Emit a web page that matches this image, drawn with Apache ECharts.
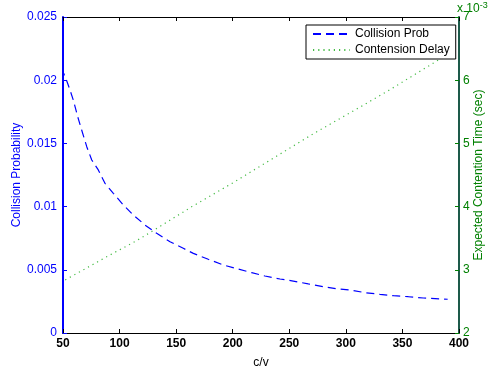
<!DOCTYPE html>
<html><head><meta charset="utf-8">
<script src="https://cdn.jsdelivr.net/npm/echarts@6/dist/echarts.min.js"></script>
<style>html,body{margin:0;padding:0;background:#fff}#c{width:490px;height:371px}</style>
</head><body><div id="c"></div>
<script>
const xTicks = [50, 100, 150, 200, 250, 300, 350, 400];
const leftTicks = [0, 0.005, 0.01, 0.015, 0.02, 0.025];
const rightTicks = [2, 3, 4, 5, 6, 7];
const probX = [50, 50.6, 53.5, 56.2, 59.1, 63, 66.5, 71, 75.4, 81.2, 87.1, 94.5, 103.3, 112.1, 122.5, 132.8, 144.6, 156.3, 165.2, 178.4, 191.7, 203.5, 216.8, 228.5, 241.8, 253.5, 266.8, 280, 291.9, 305.2, 316.9, 330.2, 342, 355.2, 368.5, 386, 390];
const probY = [0.0201, 0.02055, 0.0199, 0.01922, 0.01843, 0.01711, 0.01606, 0.01474, 0.01369, 0.0129, 0.01184, 0.01105, 0.01013, 0.00934, 0.00854, 0.00789, 0.00722, 0.0067, 0.0063, 0.00583, 0.00538, 0.00509, 0.00477, 0.00451, 0.00427, 0.00411, 0.00388, 0.00366, 0.0035, 0.00338, 0.00319, 0.00306, 0.00295, 0.00287, 0.00277, 0.00269, 0.00267];
const delayX = [52, 72, 90, 114, 127, 164, 201, 271, 314, 339, 376, 390];
const delayY = [2.84, 3.04, 3.22, 3.45, 3.59, 4.0, 4.385, 5.15, 5.59, 5.85, 6.256, 6.41]; // x 10^-3 sec

const font = 'Liberation Sans, Arial, Helvetica, sans-serif';
const chart = echarts.init(document.getElementById('c'), null, {renderer: 'canvas'});
chart.setOption({
  animation: false,
  backgroundColor: '#fff',
  grid: {left: 63, right: 31, top: 17, bottom: 38, containLabel: false, outerBoundsMode: 'none'},
  legend: {
    left: 306, top: 25, orient: 'vertical',
    backgroundColor: '#fff', borderColor: '#000', borderWidth: 1,
    padding: [3, 6, 3, 6], itemGap: 4, itemWidth: 37, itemHeight: 12,
    itemStyle: {opacity: 0},
    textStyle: {fontFamily: font, fontSize: 12, color: '#000'},
    data: ['Collision Prob', 'Contension Delay']
  },
  xAxis: [{
    type: 'value', min: xTicks[0], max: xTicks[xTicks.length - 1], interval: 50,
    name: 'c/v', nameLocation: 'middle', nameGap: 24, nameMoveOverlap: false,
    nameTextStyle: {fontFamily: font, fontSize: 12, color: '#000'},
    axisLine: {show: true, lineStyle: {color: '#000', width: 1}},
    axisTick: {show: true, inside: true, length: 4, lineStyle: {color: '#000'}},
    axisLabel: {fontFamily: font, fontSize: 12, color: '#000', margin: 5, fontWeight: 'bold'},
    splitLine: {show: false}
  }, {
    type: 'value', position: 'top', min: 50, max: 400, interval: 50,
    axisLine: {show: true, onZero: false, lineStyle: {color: '#000', width: 1}},
    axisTick: {show: true, inside: true, length: 4, lineStyle: {color: '#000'}},
    axisLabel: {show: false}, splitLine: {show: false}
  }],
  yAxis: [{
    type: 'value', position: 'left', min: 0, max: 0.025, interval: 0.005,
    name: 'Collision Probability', nameLocation: 'middle', nameGap: 40, nameRotate: 90,
    nameMoveOverlap: false,
    nameTextStyle: {fontFamily: font, fontSize: 12, color: '#0000ff'},
    axisLine: {show: true, lineStyle: {color: '#0000ff', width: 2}},
    axisTick: {show: true, inside: true, length: 4, lineStyle: {color: '#0000ff'}},
    axisLabel: {fontFamily: font, fontSize: 12, color: '#0000ff', margin: 6,
      formatter: v => String(+v.toFixed(3))},
    splitLine: {show: false}
  }, {
    type: 'value', position: 'right', min: 2, max: 7, interval: 1,
    name: 'Expected Contention Time (sec)', nameLocation: 'middle', nameGap: 14, nameRotate: 90,
    nameMoveOverlap: false,
    nameTextStyle: {fontFamily: font, fontSize: 12, color: '#008000'},
    axisLine: {show: true, lineStyle: {color: '#1d5a4a', width: 2}},
    axisTick: {show: true, inside: true, length: 4, lineStyle: {color: '#008000'}},
    axisLabel: {fontFamily: font, fontSize: 12, color: '#008000', margin: 4},
    splitLine: {show: false}
  }],
  graphic: [{
    type: 'text', left: 457, top: 1, silent: true,
    style: {
      text: '{a|x 10}{s|-3}',
      rich: {
        a: {fontFamily: font, fontSize: 12, fill: '#008000'},
        s: {fontFamily: font, fontSize: 9, fill: '#008000', verticalAlign: 'top', padding: [0, 0, 6, 0]}
      }
    }
  }],
  series: [{
    name: 'Collision Prob', type: 'line', xAxisIndex: 0, yAxisIndex: 0,
    data: probX.map((x, i) => [x, probY[i]]),
    showSymbol: false, symbol: 'none', smooth: false,
    lineStyle: {color: '#0000ff', width: 1.2, type: [8, 5]},
    itemStyle: {color: '#0000ff'}, z: 3
  }, {
    name: 'Contension Delay', type: 'line', xAxisIndex: 0, yAxisIndex: 1,
    data: delayX.map((x, i) => [x, delayY[i]]),
    showSymbol: false, symbol: 'none', smooth: false,
    lineStyle: {color: '#44bb44', width: 1.2, type: [1.2, 4]},
    itemStyle: {color: '#44bb44'}, z: 2
  }]
});
</script></body></html>
